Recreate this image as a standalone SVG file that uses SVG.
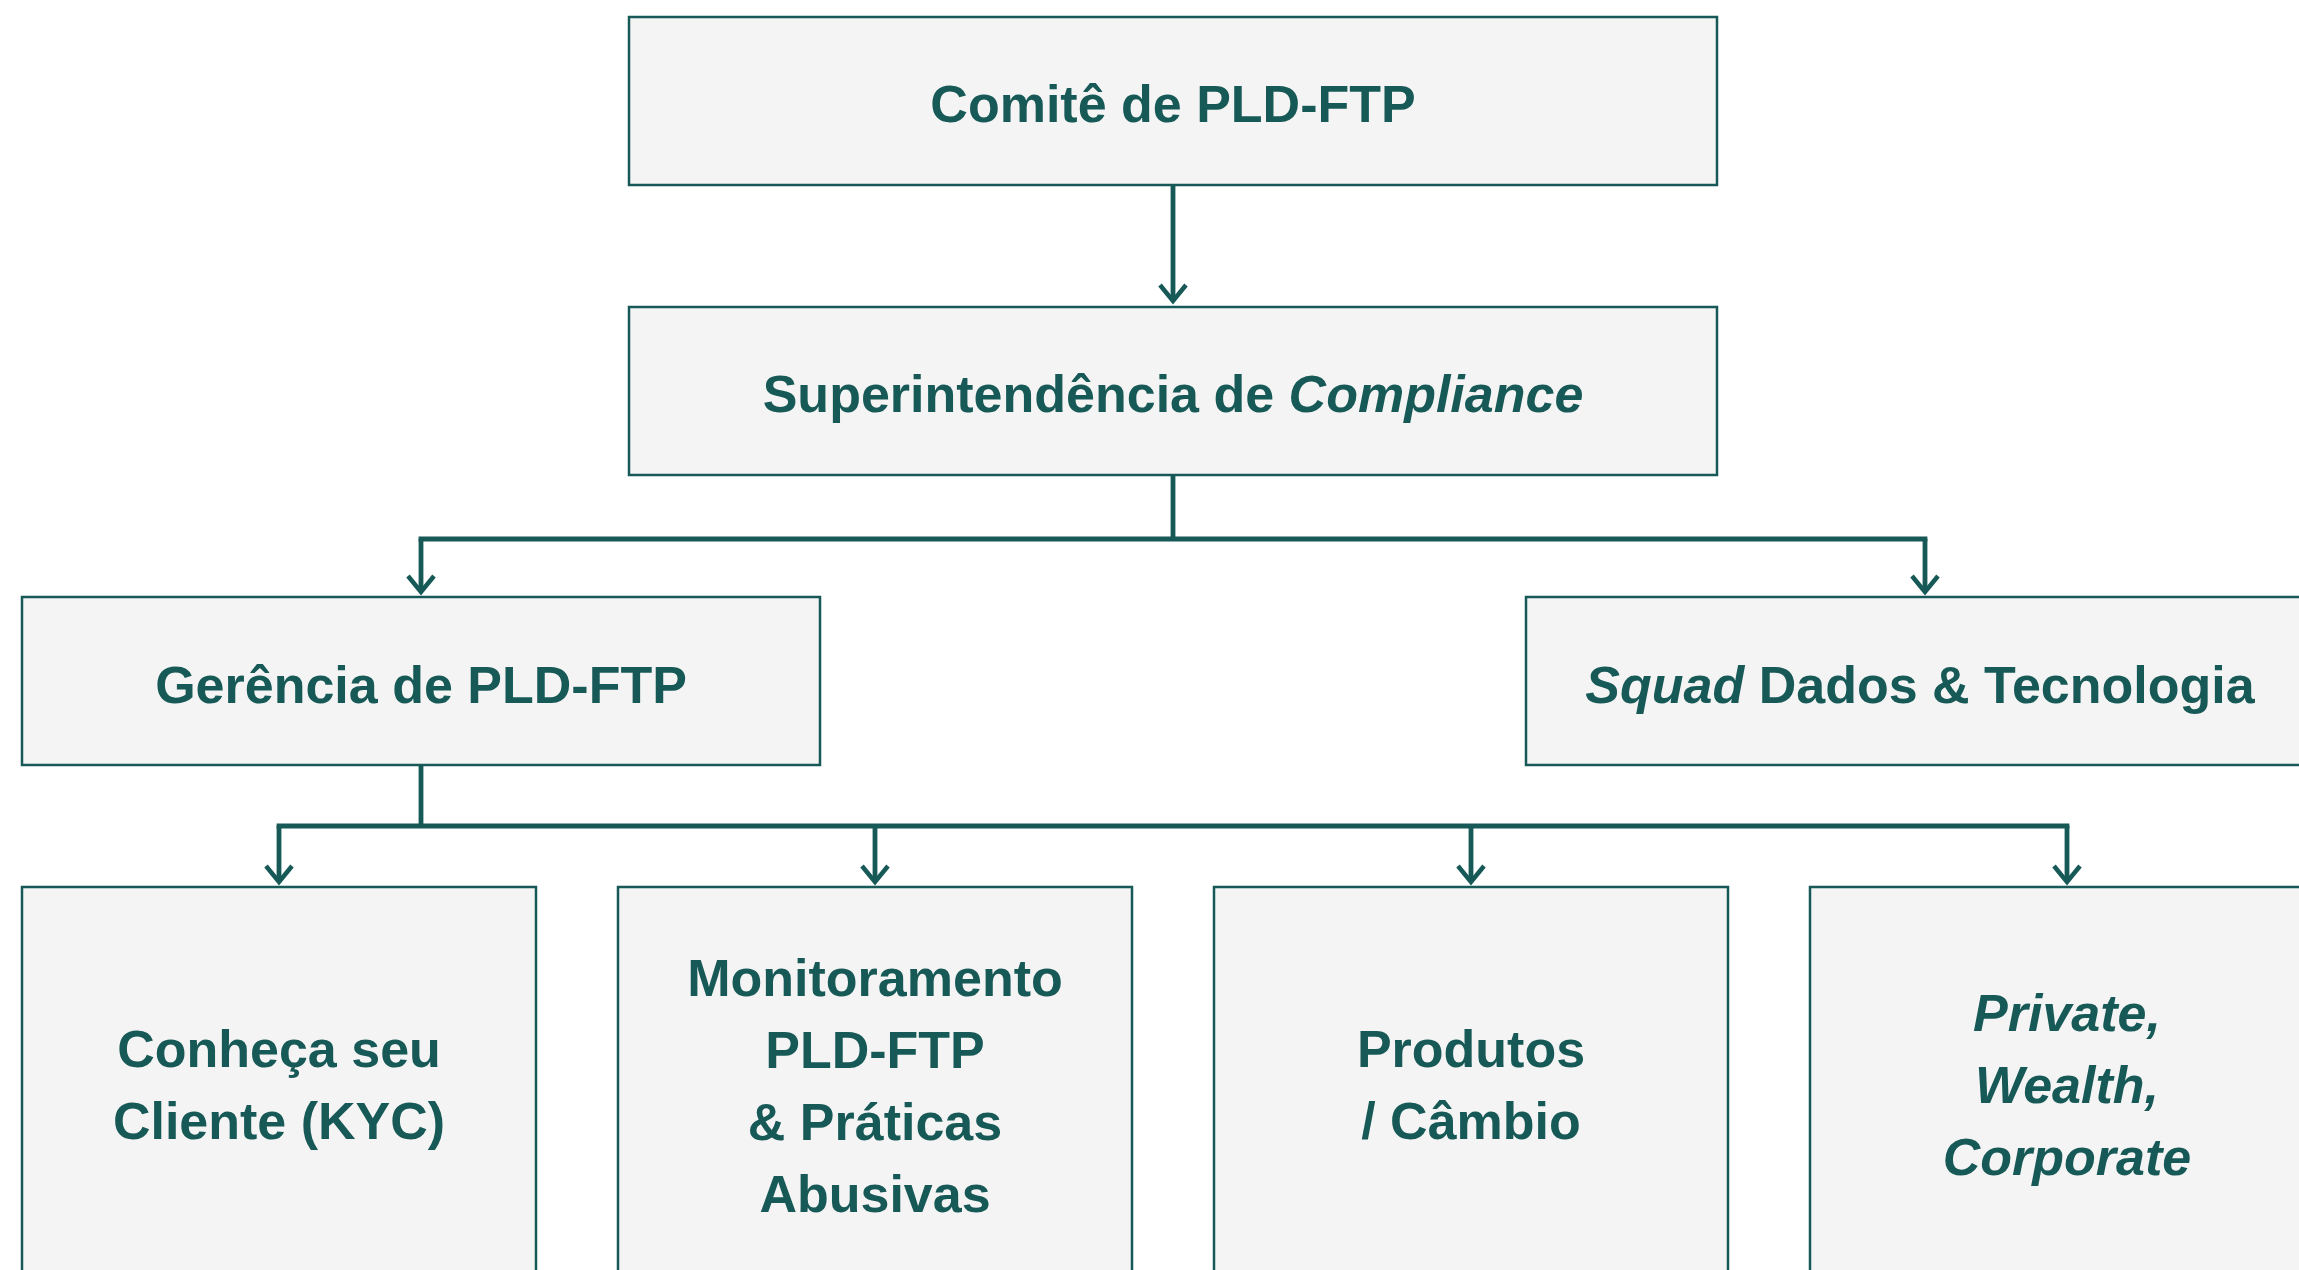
<svg xmlns="http://www.w3.org/2000/svg" width="2299" height="1270" viewBox="0 0 2299 1270">
  <defs>
    <style>
      .box { fill: #F4F4F4; stroke: #175957; stroke-width: 2.5; }
      .lbl { font-family: "Liberation Sans", Arial, sans-serif; font-weight: bold; font-size: 52px; fill: #175957; text-anchor: middle; }
      .it { font-style: italic; }
      .conn { fill: none; stroke: #175957; stroke-width: 4.8; stroke-linejoin: miter; marker-end: url(#arr); }
      .conn-plain { fill: none; stroke: #175957; stroke-width: 4.8; }
    </style>
    <marker id="arr" markerUnits="userSpaceOnUse" orient="auto" overflow="visible" markerWidth="40" markerHeight="40" refX="0" refY="0">
      <path d="M-16,-13 L0,0 L-16,13" fill="none" stroke="#175957" stroke-width="4.5" stroke-linejoin="miter" stroke-linecap="butt"/>
    </marker>
  </defs>
  <rect width="2299" height="1270" fill="#FFFFFF"/>

  <g id="connectors">
    <path class="conn" d="M1173,185 L1173,301"/>
    <path class="conn-plain" d="M1173,475 L1173,539"/>
    <path class="conn-plain" d="M418.6,539 L1927.4,539"/>
    <path class="conn" d="M421,539 L421,592"/>
    <path class="conn" d="M1925,539 L1925,592"/>
    <path class="conn-plain" d="M421,765 L421,826"/>
    <path class="conn-plain" d="M276.6,826 L2069.4,826"/>
    <path class="conn" d="M279,826 L279,882"/>
    <path class="conn" d="M875,826 L875,882"/>
    <path class="conn" d="M1471,826 L1471,882"/>
    <path class="conn" d="M2067,826 L2067,882"/>
  </g>

  <g id="comite">
    <rect class="box" x="629" y="17" width="1088" height="168"/>
    <text class="lbl" x="1173" y="122">Comitê de PLD-FTP</text>
  </g>

  <g id="superintendencia">
    <rect class="box" x="629" y="307" width="1088" height="168"/>
    <text class="lbl" x="1173" y="412">Superintendência de <tspan class="it">Compliance</tspan></text>
  </g>

  <g id="gerencia">
    <rect class="box" x="22" y="597" width="798" height="168"/>
    <text class="lbl" x="421" y="703">Gerência de PLD-FTP</text>
  </g>

  <g id="squad">
    <rect class="box" x="1526" y="597" width="798" height="168"/>
    <text class="lbl" x="1920" y="703"><tspan class="it">Squad</tspan> Dados &amp; Tecnologia</text>
  </g>

  <g id="kyc">
    <rect class="box" x="22" y="887" width="514" height="400"/>
    <text class="lbl" x="279" y="1067">Conheça seu</text>
    <text class="lbl" x="279" y="1139">Cliente (KYC)</text>
  </g>

  <g id="monitoramento">
    <rect class="box" x="618" y="887" width="514" height="400"/>
    <text class="lbl" x="875" y="996">Monitoramento</text>
    <text class="lbl" x="875" y="1068">PLD-FTP</text>
    <text class="lbl" x="875" y="1140">&amp; Práticas</text>
    <text class="lbl" x="875" y="1212">Abusivas</text>
  </g>

  <g id="produtos">
    <rect class="box" x="1214" y="887" width="514" height="400"/>
    <text class="lbl" x="1471" y="1067">Produtos</text>
    <text class="lbl" x="1471" y="1139">/ Câmbio</text>
  </g>

  <g id="private">
    <rect class="box" x="1810" y="887" width="514" height="400"/>
    <text class="lbl it" x="2067" y="1031">Private,</text>
    <text class="lbl it" x="2067" y="1103">Wealth,</text>
    <text class="lbl it" x="2067" y="1175">Corporate</text>
  </g>
</svg>
